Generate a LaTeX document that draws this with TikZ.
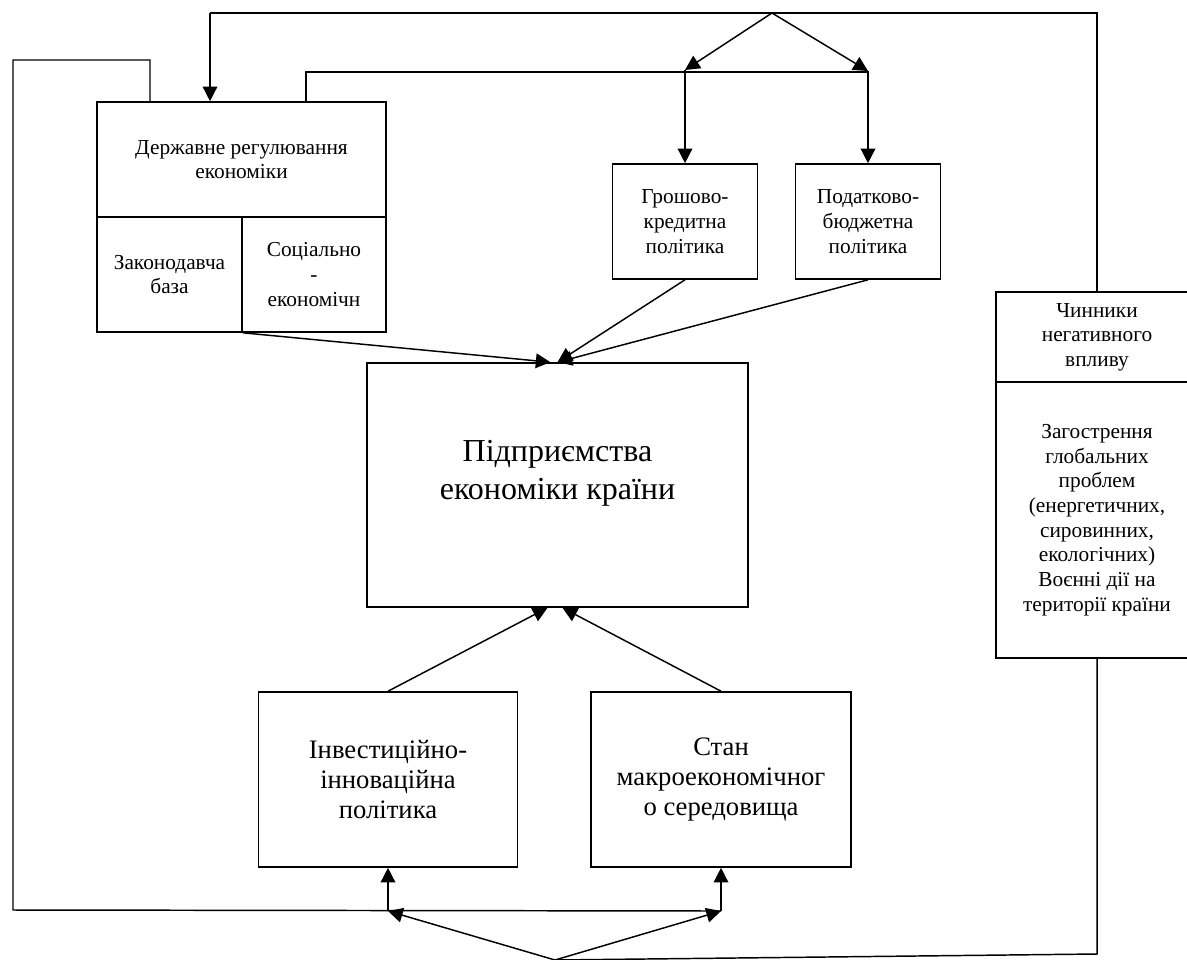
\documentclass[tikz,border=0pt]{standalone}
\usepackage{fontspec}
\setmainfont{Liberation Serif}
\usetikzlibrary{arrows.meta, positioning, calc}
\tikzstyle{block} = [rectangle, draw=black, line width=1.2pt, align=center, inner sep=2pt, font=\fontsize{16}{18.5}\selectfont]
\tikzstyle{bigtext} = [align=center, font=\fontsize{24}{28.5}\selectfont]
\tikzstyle{midtext} = [font=\fontsize{20}{22.5}\selectfont]
\tikzstyle{arrow} = [line width=1.1pt, -{Triangle[length=11pt,width=11pt]}]
\tikzstyle{line} = [line width=1.1pt]

\begin{document}
\begin{tikzpicture}[x=0.75pt,y=-0.75pt]
    \clip (0,0) rectangle (1187,959);

    % upper blocks
    \node[block, minimum width=289*0.75pt, minimum height=115*0.75pt] (derzh) at (241.5,159.5) {Державне регулювання\\економіки};
    \node[block, minimum width=145*0.75pt, minimum height=115*0.75pt] (zakon) at (169.5,274.5) {Законодавча\\база};
    \node[block, minimum width=144*0.75pt, minimum height=115*0.75pt] (social) at (314,274.5) {Соціально\\-\\економічн};
    \node[block, minimum width=145*0.75pt, minimum height=115*0.75pt] (groshovo) at (685,221.5) {Грошово-\\кредитна\\політика};
    \node[block, minimum width=145*0.75pt, minimum height=115*0.75pt] (podatk) at (868,221.5) {Податково-\\бюджетна\\політика};

    % centre
    \node[block, minimum width=381*0.75pt, minimum height=244*0.75pt] (pidpr) at (557.5,485) {};
    \node[bigtext] (pidprtext) at (557.5,473) {Підприємства\\економіки країни};

    % lower blocks
    \node[block, midtext, minimum width=259*0.75pt, minimum height=175*0.75pt] (invest) at (388,779.5) {Інвестиційно-\\інноваційна\\політика};
    \node[block, midtext, minimum width=260*0.75pt, minimum height=175*0.75pt] (stan) at (721,779.5) {Стан\\макроекономічног\\о середовища};

    % right blocks
    \node[block, minimum width=202*0.75pt, minimum height=90*0.75pt] (chynn) at (1097,337) {Чинники\\негативного\\впливу};
    \node[block, minimum width=202*0.75pt, minimum height=276*0.75pt] (zagostr) at (1097,520) {Загострення\\глобальних\\проблем\\(енергетичних,\\сировинних,\\екологічних)\\Воєнні дії на\\території країни};

    \coordinate (topL) at (210,13);
    \coordinate (apexT) at (772,13);
    \coordinate (splitL) at (685,70);
    \coordinate (splitR) at (868,71);
    \coordinate (feedR) at (306,72);
    \coordinate (fbX) at (150,60);
    \coordinate (fbTop) at (13,60);
    \coordinate (fbBot) at (13,910);
    \coordinate (botL) at (388,911);
    \coordinate (botR) at (721,911);
    \coordinate (apexB) at (555,960);
    \coordinate (cornerBR) at (1097,954);

    % feedback loops
    \draw[line] (chynn.north) |- (topL);
    \draw[arrow] (topL) -- (topL |- derzh.north);
    \draw[arrow] (apexT) -- (splitL);
    \draw[arrow] (apexT) -- (splitR);
    \draw[line] (derzh.north -| feedR) -- (feedR) -- (feedR -| splitR);
    \draw[arrow] (splitL) -- (groshovo.north);
    \draw[arrow] (splitR) -- (podatk.north);
    \draw[line] (derzh.north -| fbX) -- (fbX) -- (fbTop) -- (fbBot) -- (botR);
    \draw[arrow] (botL) -- (invest.south);
    \draw[arrow] (botR) -- (stan.south);
    \draw[arrow] (apexB) -- (botL);
    \draw[arrow] (apexB) -- (botR);
    \draw[line] (zagostr.south) -- (cornerBR) -- (apexB);

    % into the centre
    \draw[arrow] (zakon.south east) -- ($(pidpr.north)+(-7,0)$);
    \draw[arrow] (groshovo.south) -- (pidpr.north);
    \draw[arrow] (podatk.south) -- (pidpr.north);
    \draw[arrow] (invest.north) -- ($(pidpr.south)+(-10,0)$);
    \draw[arrow] (stan.north) -- ($(pidpr.south)+(5,0)$);

\end{tikzpicture}
\end{document}
